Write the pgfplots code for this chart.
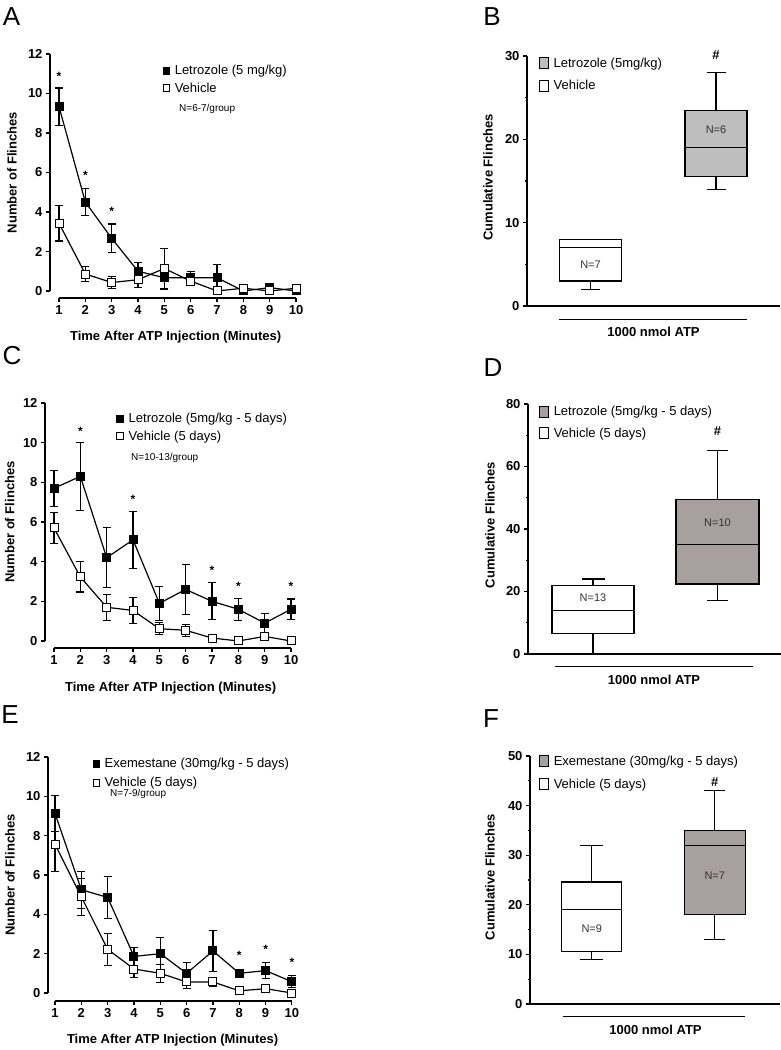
\documentclass[border=0pt]{standalone}
\usepackage{fontspec}
\setmainfont{Liberation Sans}
\usepackage{pgfplots}
\pgfplotsset{compat=1.18}
\usepgfplotslibrary{statistics}
\definecolor{boxgrayB}{RGB}{190,190,190}
\definecolor{boxgrayD}{RGB}{168,160,158}

\pgfplotsset{
  common/.style={
    scale only axis, anchor=south west, clip=false,
    axis lines*=left,
    tick align=outside, major tick length=4pt, minor tick length=2.5pt,
    axis line style={line width=1.1pt, black},
    tick style={line width=1.1pt, black},
    /pgf/number format/assume math mode=true,
    ticklabel style={font=\fontsize{13}{13}\selectfont\bfseries},
    label style={font=\fontsize{13}{15}\selectfont\bfseries},
    legend style={draw=none, fill=none, inner xsep=0pt, inner ysep=0pt,
      anchor=north west, font=\fontsize{13}{15}\selectfont,
      cells={anchor=west}},
  },
  linechart/.style={
    common,
    axis x line shift=7pt,
    x axis line style={draw=none},
    ymin=0, ymax=12, ytick={0,2,...,12}, xtick={1,...,10},
    xlabel={Time After ATP Injection (Minutes)},
    ylabel={Number of Flinches},
    legend style={row sep=2.5pt},
    legend image code/.code={\draw[#1] plot coordinates {(4pt,0pt)}; \path[draw=none] (0pt,0pt) -- (10.5pt,0pt);},
  },
  boxchart/.style={
    common,
    xmin=0, xmax=253, xtick=\empty,
    ylabel={Cumulative Flinches},
    minor y tick num=1,
    legend style={row sep=7.5pt},
    legend image code/.code={\draw[#1, line width=1.1pt] (0pt,-5.5pt) rectangle (9pt,5.5pt); \path[draw=none] (0pt,0pt) -- (12pt,0pt);},
    boxplot/draw direction=y,
    boxplot/every median/.style={line width=1pt},
  },
  lett/.style={black, line width=1.2pt, mark=square*, mark size=4pt,
    mark options={fill=black, draw=black, line width=1pt},
    error bars/y dir=both, error bars/y explicit,
    error bars/error mark options={rotate=90, mark size=4pt, line width=1.1pt, black},
    error bars/error bar style={line width=1.1pt, black}},
  veh/.style={black, line width=1.2pt, mark=square*, mark size=4pt,
    mark options={fill=white, draw=black, line width=1pt},
    error bars/y dir=both, error bars/y explicit,
    error bars/error mark options={rotate=90, mark size=4pt, line width=1.1pt, black},
    error bars/error bar style={line width=1.1pt, black}},
  legL/.style={only marks, mark=square*, mark size=3.3pt, mark options={fill=black, draw=black, line width=0.8pt}},
  legV/.style={only marks, mark=square*, mark size=3.3pt, mark options={fill=white, draw=black, line width=0.8pt}},
}

\pgfplotstableread{
x y e
1 9.33 0.95
2 4.5 0.67
3 2.67 0.72
4 1.0 0.45
5 0.67 0.6
6 0.67 0.33
7 0.67 0.67
8 0.0 0.0
9 0.17 0.17
10 0.0 0.0
}\Alet
\pgfplotstableread{
x y e
1 3.43 0.9
2 0.86 0.38
3 0.43 0.3
4 0.57 0.4
5 1.14 1.0
6 0.5 0.17
7 0.0 0.0
8 0.14 0.14
9 0.0 0.0
10 0.14 0.14
}\Aveh
\pgfplotstableread{
x y e
1 7.7 0.9
2 8.3 1.7
3 4.2 1.5
4 5.1 1.45
5 1.9 0.85
6 2.6 1.25
7 2.0 0.93
8 1.6 0.55
9 0.9 0.5
10 1.6 0.52
}\Clet
\pgfplotstableread{
x y e
1 5.7 0.8
2 3.23 0.76
3 1.7 0.65
4 1.54 0.67
5 0.62 0.3
6 0.54 0.3
7 0.15 0.1
8 0.0 0.0
9 0.23 0.15
10 0.0 0.0
}\Cveh
\pgfplotstableread{
x y e
1 9.13 0.9
2 5.25 0.95
3 4.86 1.05
4 1.86 0.45
5 2.0 0.82
6 1.0 0.55
7 2.14 1.05
8 1.0 0.15
9 1.14 0.4
10 0.57 0.3
}\Eexe
\pgfplotstableread{
x y e
1 7.56 1.4
2 4.89 0.95
3 2.22 0.82
4 1.22 0.42
5 1.0 0.45
6 0.56 0.33
7 0.56 0.25
8 0.11 0.1
9 0.22 0.2
10 0.0 0.0
}\Eveh

\begin{document}
\begin{tikzpicture}[x=1pt,y=1pt]
\path[use as bounding box] (0,0) rectangle (781,1050);

% panel letters
\node[font=\fontsize{26}{26}\selectfont] at (11.5,1033.5) {A};
\node[font=\fontsize{26}{26}\selectfont] at (492,1033) {B};
\node[font=\fontsize{26}{26}\selectfont] at (12,694.5) {C};
\node[font=\fontsize{26}{26}\selectfont] at (493,682.5) {D};
\node[font=\fontsize{26}{26}\selectfont] at (10,335) {E};
\node[font=\fontsize{26}{26}\selectfont] at (491,331) {F};

% ---------- Panel A ----------
\begin{axis}[linechart, at={(50pt,759pt)}, width=251.3pt, height=237pt,
  xmin=0.658, xmax=10.2,
  xlabel style={at={(axis description cs:0.5,-0.194)}, anchor=center},
  ylabel style={at={(axis description cs:-0.151,0.5)}, anchor=center, rotate=0},
  legend style={at={(axis description cs:0.446,0.962)}}]
\addlegendimage{legL}\addlegendentry{Letrozole (5 mg/kg)}
\addlegendimage{legV}\addlegendentry{Vehicle}
\addplot[lett, forget plot] table[x=x,y=y,y error=e] {\Alet};
\addplot[veh, forget plot] table[x=x,y=y,y error=e] {\Aveh};
\draw[line width=1.1pt] ([yshift=-7pt]axis cs:1,0) -- ([yshift=-7pt]axis cs:10,0);
\node[font=\fontsize{12}{12}\selectfont\bfseries, yshift=-2.5pt] at (axis cs:1,11.0) {*};
\node[font=\fontsize{12}{12}\selectfont\bfseries, yshift=-2.5pt] at (axis cs:2,6.0) {*};
\node[font=\fontsize{12}{12}\selectfont\bfseries, yshift=-2.5pt] at (axis cs:3,4.15) {*};
\end{axis}
\node[anchor=west, inner sep=0pt, font=\fontsize{10}{10}\selectfont] at (179,941) {N=6-7/group};

% ---------- Panel C ----------
\begin{axis}[linechart, at={(45pt,409pt)}, width=251.3pt, height=238pt,
  xmin=0.658, xmax=10.2,
  xlabel style={at={(axis description cs:0.5,-0.197)}, anchor=center},
  ylabel style={at={(axis description cs:-0.14,0.5)}, anchor=center, rotate=0},
  legend style={at={(axis description cs:0.2825,0.966)}}]
\addlegendimage{legL}\addlegendentry{Letrozole (5mg/kg - 5 days)}
\addlegendimage{legV}\addlegendentry{Vehicle (5 days)}
\addplot[lett, forget plot] table[x=x,y=y,y error=e] {\Clet};
\addplot[veh, forget plot] table[x=x,y=y,y error=e] {\Cveh};
\draw[line width=1.1pt] ([yshift=-7pt]axis cs:1,0) -- ([yshift=-7pt]axis cs:10,0);
\node[font=\fontsize{12}{12}\selectfont\bfseries, yshift=-2.5pt] at (axis cs:2,10.7) {*};
\node[font=\fontsize{12}{12}\selectfont\bfseries, yshift=-2.5pt] at (axis cs:4,7.26) {*};
\node[font=\fontsize{12}{12}\selectfont\bfseries, yshift=-2.5pt] at (axis cs:7,3.68) {*};
\node[font=\fontsize{12}{12}\selectfont\bfseries, yshift=-2.5pt] at (axis cs:8,2.87) {*};
\node[font=\fontsize{12}{12}\selectfont\bfseries, yshift=-2.5pt] at (axis cs:10,2.87) {*};
\end{axis}
\node[anchor=west, inner sep=0pt, font=\fontsize{10}{10}\selectfont] at (131,592) {N=10-13/group};

% ---------- Panel E ----------
\begin{axis}[linechart, at={(48pt,57pt)}, width=249.2pt, height=236pt,
  xmin=0.734, xmax=10.2, axis x line shift=8pt,
  xlabel style={at={(axis description cs:0.5,-0.199)}, anchor=center},
  ylabel style={at={(axis description cs:-0.153,0.5)}, anchor=center, rotate=0},
  legend style={at={(axis description cs:0.1766,1.004)}, row sep=4pt}]
\addlegendimage{legL}\addlegendentry{Exemestane (30mg/kg - 5 days)}
\addlegendimage{legV}\addlegendentry{Vehicle (5 days)}
\addplot[lett, forget plot] table[x=x,y=y,y error=e] {\Eexe};
\addplot[veh, forget plot] table[x=x,y=y,y error=e] {\Eveh};
\draw[line width=1.1pt] ([yshift=-8pt]axis cs:1,0) -- ([yshift=-8pt]axis cs:10,0);
\node[font=\fontsize{12}{12}\selectfont\bfseries, yshift=-2.5pt] at (axis cs:8,2.03) {*};
\node[font=\fontsize{12}{12}\selectfont\bfseries, yshift=-2.5pt] at (axis cs:9,2.34) {*};
\node[font=\fontsize{12}{12}\selectfont\bfseries, yshift=-2.5pt] at (axis cs:10,1.68) {*};
\end{axis}
\node[anchor=west, inner sep=0pt, font=\fontsize{10}{10}\selectfont] at (110,256) {N=7-9/group};

% ---------- Panel B ----------
\begin{axis}[boxchart, at={(527pt,744pt)}, width=253pt, height=250pt,
  ymin=0, ymax=30, ytick={0,10,20,30},
  ylabel style={at={(axis description cs:-0.154,0.514)}, anchor=center, rotate=0},
  legend style={at={(axis description cs:0.047,1.002)}}]
\addlegendimage{fill=boxgrayB, draw=black}\addlegendentry{Letrozole (5mg/kg)}
\addlegendimage{fill=white, draw=black}\addlegendentry{Vehicle}
\addplot[forget plot, draw=black, fill=white, line width=1.1pt,
  boxplot prepared={draw position=63.5, lower whisker=2, lower quartile=3,
  median=7, upper quartile=8, upper whisker=8, box extend=62, whisker extend=19}] coordinates {};
\addplot[forget plot, draw=black, fill=boxgrayB, line width=1.1pt,
  boxplot prepared={draw position=189, lower whisker=14, lower quartile=15.5,
  median=19, upper quartile=23.5, upper whisker=28, box extend=62, whisker extend=19}] coordinates {};
\node[font=\fontsize{11}{11}\selectfont, text=black!80] at (axis cs:63.5,4.9) {N=7};
\node[font=\fontsize{11}{11}\selectfont, text=black!80] at (axis cs:189,21.1) {N=6};
\node[font=\fontsize{13}{13}\selectfont\bfseries] at (axis cs:189,30.1) {\#};
\draw[line width=0.9pt] (axis description cs:0,-0.052) ++(32,0) -- ++(188,0);
\node[font=\fontsize{13}{13}\selectfont\bfseries] at ([xshift=126.5pt]axis description cs:0,-0.104) {1000 nmol ATP};
\end{axis}

% ---------- Panel D ----------
\begin{axis}[boxchart, at={(528pt,396pt)}, width=253pt, height=250pt,
  ymin=0, ymax=80, ytick={0,20,40,60,80},
  ylabel style={at={(axis description cs:-0.150,0.516)}, anchor=center, rotate=0},
  legend style={at={(axis description cs:0.0435,1.0)}, row sep=6.5pt}]
\addlegendimage{fill=boxgrayD, draw=black}\addlegendentry{Letrozole (5mg/kg - 5 days)}
\addlegendimage{fill=white, draw=black}\addlegendentry{Vehicle (5 days)}
\addplot[forget plot, draw=black, fill=white, line width=1.1pt,
  boxplot prepared={draw position=65, lower whisker=0, lower quartile=6.6,
  median=14, upper quartile=22, upper whisker=24, box extend=82, whisker extend=23}] coordinates {};
\addplot[forget plot, draw=black, fill=boxgrayD, line width=1.1pt,
  boxplot prepared={draw position=189.5, lower whisker=17, lower quartile=22.4,
  median=35, upper quartile=49.5, upper whisker=65, box extend=83, whisker extend=21}] coordinates {};
\node[font=\fontsize{11}{11}\selectfont, text=black!80] at (axis cs:65,17.9) {N=13};
\node[font=\fontsize{11}{11}\selectfont, text=black!80] at (axis cs:189.5,41.9) {N=10};
\node[font=\fontsize{13}{13}\selectfont\bfseries] at (axis cs:189.5,71.4) {\#};
\draw[line width=0.9pt] (axis description cs:0,-0.048) ++(27,0) -- ++(198,0);
\node[font=\fontsize{13}{13}\selectfont\bfseries] at ([xshift=126pt]axis description cs:0,-0.104) {1000 nmol ATP};
\end{axis}

% ---------- Panel F ----------
\begin{axis}[boxchart, at={(530pt,46pt)}, width=250pt, height=248pt,
  ymin=0, ymax=50, ytick={0,10,...,50},
  ylabel style={at={(axis description cs:-0.16,0.512)}, anchor=center, rotate=0},
  legend style={at={(axis description cs:0.036,1.01)}, row sep=8pt}]
\addlegendimage{fill=boxgrayD, draw=black}\addlegendentry{Exemestane (30mg/kg - 5 days)}
\addlegendimage{fill=white, draw=black}\addlegendentry{Vehicle (5 days)}
\addplot[forget plot, draw=black, fill=white, line width=1.1pt,
  boxplot prepared={draw position=62.5, lower whisker=9, lower quartile=10.5,
  median=19, upper quartile=24.6, upper whisker=32, box extend=61, whisker extend=23}] coordinates {};
\addplot[forget plot, draw=black, fill=boxgrayD, line width=1.1pt,
  boxplot prepared={draw position=187, lower whisker=13, lower quartile=18,
  median=32, upper quartile=35, upper whisker=43, box extend=62, whisker extend=21}] coordinates {};
\node[font=\fontsize{11}{11}\selectfont, text=black!80] at (axis cs:62.5,15.1) {N=9};
\node[font=\fontsize{11}{11}\selectfont, text=black!80] at (axis cs:187,25.8) {N=7};
\node[font=\fontsize{13}{13}\selectfont\bfseries] at (axis cs:187,44.8) {\#};
\draw[line width=0.9pt] (axis description cs:0,-0.052) ++(33,0) -- ++(185,0);
\node[font=\fontsize{13}{13}\selectfont\bfseries] at ([xshift=125.5pt]axis description cs:0,-0.105) {1000 nmol ATP};
\end{axis}
\end{tikzpicture}
\end{document}
